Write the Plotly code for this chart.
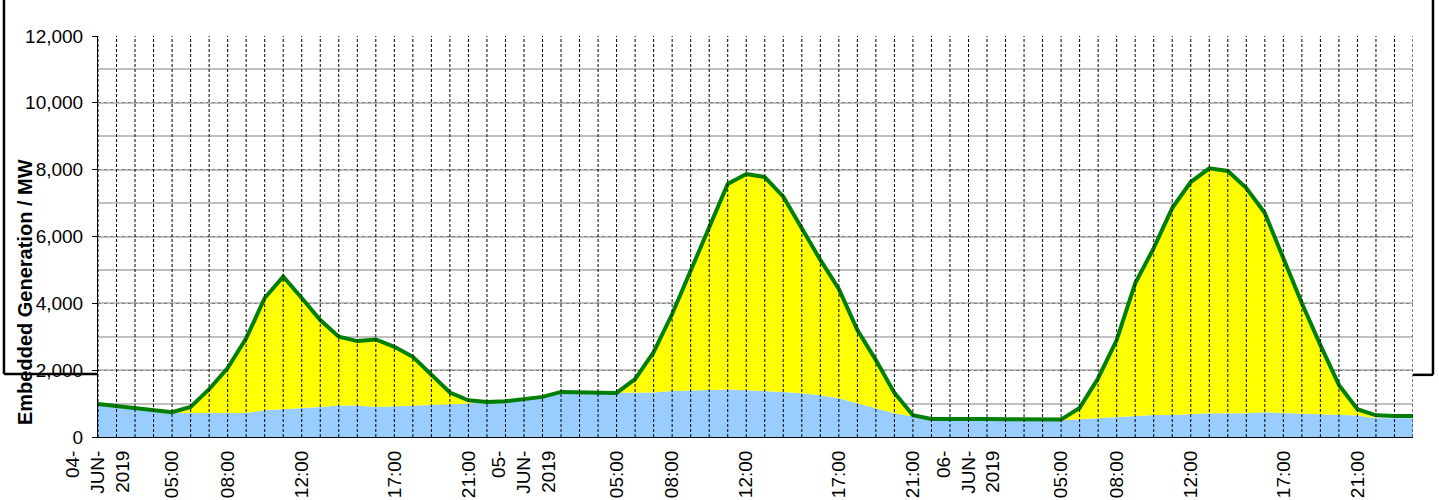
import plotly.graph_objects as go

# Hourly periods, 04-Jun-2019 01:00 .. 07-Jun-2019 00:00
periods = list(range(72))

# Embedded wind (blue area), MW
wind = [990, 930, 870, 800, 720, 720, 720, 700, 720, 800, 830, 850, 900, 940, 940, 900,
        920, 950, 960, 980, 1010, 1010, 1040, 1100, 1170, 1320, 1320, 1320, 1320, 1320,
        1330, 1380, 1400, 1420, 1420, 1400, 1380, 1350, 1310, 1250, 1160, 1010, 860, 710,
        610, 510, 500, 500, 500, 490, 490, 480, 500, 530, 560, 590, 630, 660, 660, 690,
        710, 710, 710, 740, 720, 710, 700, 670, 640, 560, 560, 560]

# Embedded solar (yellow area, stacked on wind), MW
solar = [0, 0, 0, 0, 20, 180, 710, 1360, 2230, 3360, 3970, 3310, 2600, 2060, 1930, 2020,
         1780, 1450, 890, 350, 0, 0, 0, 0, 0, 0, 0, 0, 0, 410,
         1210, 2300, 3600, 4870, 6150, 6470, 6400, 5840, 4940, 4050, 3270, 2190, 1440, 610,
         40, 0, 0, 0, 0, 0, 0, 0, 20, 340, 1200, 2310, 3970, 4990, 6190, 6940,
         7330, 7250, 6740, 5960, 4630, 3290, 2050, 890, 190, 0, 0, 0]

# Total embedded generation (green line), MW
total = [990, 930, 870, 810, 740, 900, 1430, 2060, 2950, 4160, 4800, 4160, 3500, 3000, 2870, 2920,
         2700, 2400, 1850, 1330, 1100, 1050, 1070, 1130, 1200, 1350, 1350, 1340, 1320, 1730,
         2540, 3680, 5000, 6290, 7570, 7870, 7780, 7190, 6250, 5300, 4430, 3200, 2300, 1320,
         650, 540, 540, 550, 540, 530, 520, 510, 520, 870, 1760, 2900, 4600, 5650, 6850, 7630,
         8040, 7960, 7450, 6700, 5350, 4000, 2750, 1560, 830, 650, 630, 630]

tick_positions = [0, 4, 7, 11, 16, 20, 23, 28, 31, 35, 40, 44, 47, 52, 55, 59, 64, 68]
tick_labels = ["04-<br>JUN-<br>2019", "05:00", "08:00", "12:00", "17:00", "21:00",
               "05-<br>JUN-<br>2019", "05:00", "08:00", "12:00", "17:00", "21:00",
               "06-<br>JUN-<br>2019", "05:00", "08:00", "12:00", "17:00", "21:00"]

y_ticks = [0, 2000, 4000, 6000, 8000, 10000, 12000]

FONT = "Liberation Sans, Arial, sans-serif"

fig = go.Figure()
fig.add_trace(go.Scatter(x=periods, y=wind, mode="lines", stackgroup="gen",
                         line=dict(width=0, color="#99CCFF"), fillcolor="#99CCFF",
                         name="Wind", hoverinfo="skip"))
fig.add_trace(go.Scatter(x=periods, y=solar, mode="lines", stackgroup="gen",
                         line=dict(width=0, color="#FFFF00"), fillcolor="#FFFF00",
                         name="Solar", hoverinfo="skip"))
fig.add_trace(go.Scatter(x=periods, y=total, mode="lines",
                         line=dict(width=4, color="#008000"), name="Total"))

shapes = []
for p in periods:
    shapes.append(dict(type="line", xref="x", yref="paper", x0=p, x1=p, y0=0, y1=1,
                       line=dict(color="black", width=1, dash="3px,2px"), layer="above"))

# outer frame fragments visible outside the plot area
frame = dict(color="black", width=2.5)
shapes += [
    dict(type="line", xref="paper", yref="paper", x0=-0.0715, x1=-0.0715, y0=0.157, y1=1.2, line=frame),
    dict(type="line", xref="paper", yref="paper", x0=-0.0715, x1=0, y0=0.157, y1=0.157, line=frame),
    dict(type="line", xref="paper", yref="paper", x0=1.0152, x1=1.0152, y0=0.155, y1=1.2, line=frame),
    dict(type="line", xref="paper", yref="paper", x0=1.0, x1=1.0152, y0=0.155, y1=0.155, line=frame),
]

fig.update_layout(
    width=1439, height=500,
    margin=dict(l=98, r=26, t=36, b=63),
    paper_bgcolor="white", plot_bgcolor="white",
    showlegend=False,
    font=dict(family=FONT, size=19, color="black"),
    shapes=shapes,
    annotations=[dict(text="<b>Embedded Generation / MW</b>", xref="paper", yref="paper",
                      x=-0.0555, y=0.3616, xanchor="center", yanchor="middle",
                      textangle=-90, showarrow=False,
                      font=dict(family=FONT, size=20, color="black"))],
)
fig.update_xaxes(range=[0, 71], tickmode="array", tickvals=tick_positions, ticktext=tick_labels,
                 tickangle=-90, showgrid=False, zeroline=False, showline=True,
                 linecolor="black", linewidth=1, ticks="", tickfont=dict(size=19),
                 ticklabelstandoff=5, automargin=False)
fig.update_yaxes(range=[0, 12000], tickmode="array", tickvals=y_ticks,
                 ticktext=[f"{v:,}" for v in y_ticks],
                 showgrid=True, gridcolor="#808080", gridwidth=1, griddash="dot",
                 minor=dict(dtick=1000, showgrid=True, gridcolor="#C0C0C0", gridwidth=2,
                            griddash="solid"),
                 zeroline=False, showline=True, linecolor="black", linewidth=1,
                 ticks="outside", ticklen=5, tickcolor="black", tickfont=dict(size=19),
                 ticklabelstandoff=5, automargin=False)

fig.write_html("out.html", config={"displayModeBar": False},
               post_script="document.body.style.margin='0px';")
